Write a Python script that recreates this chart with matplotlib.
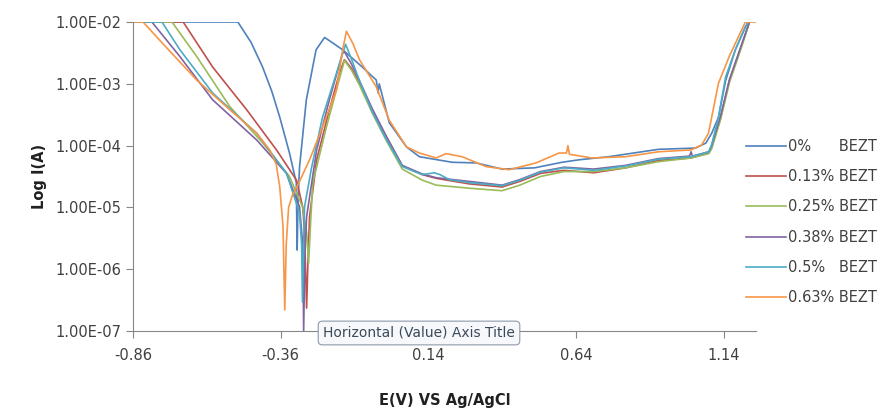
import matplotlib
matplotlib.use("Agg")
import matplotlib.pyplot as plt
from matplotlib.ticker import FixedLocator, FuncFormatter
import numpy as np

# potential (V vs Ag/AgCl) and log10 of current (A)
e_0 = [-0.86, -0.505, -0.46, -0.421, -0.39, -0.363, -0.33, -0.307, -0.304, -0.301, -0.296, -0.273,
       -0.24, -0.211, -0.18, -0.15, -0.083, -0.036, -0.03, -0.026, 0.008, 0.066, 0.11, 0.221, 0.302,
       0.39, 0.5, 0.593, 0.65, 0.751, 0.92, 1.045, 1.08, 1.1, 1.123, 1.147, 1.18, 1.214, 1.224]
logi_0 = [-2, -2, -2.33, -2.73, -3.12, -3.54, -4.12, -4.6, -5.69, -4.9, -4.35, -3.26,
          -2.45, -2.25, -2.35, -2.45, -2.73, -2.94, -3.15, -3.0, -3.63, -4.02, -4.18, -4.27, -4.28,
          -4.38, -4.36, -4.27, -4.23, -4.18, -4.06, -4.04, -3.96, -3.8, -3.54, -2.95, -2.45, -2.08, -2.0]

e_13 = [-0.86, -0.69, -0.59, -0.475, -0.374, -0.306, -0.285, -0.279, -0.272, -0.267, -0.262, -0.238,
        -0.195, -0.161, -0.144, -0.12, -0.093, -0.05, -0.002, 0.052, 0.12, 0.167, 0.28, 0.39, 0.45,
        0.52, 0.6, 0.7, 0.808, 0.92, 1.03, 1.09, 1.1, 1.13, 1.16, 1.2, 1.228]
logi_13 = [-2, -2, -2.73, -3.42, -4.07, -4.56, -5.0, -5.41, -6.63, -5.8, -5.15, -4.23,
           -3.42, -2.83, -2.61, -2.75, -2.99, -3.42, -3.86, -4.33, -4.47, -4.53, -4.62, -4.67, -4.58,
           -4.45, -4.4, -4.44, -4.36, -4.24, -4.2, -4.12, -4.02, -3.55, -2.95, -2.4, -2.0]

e_25 = [-0.86, -0.728, -0.644, -0.532, -0.42, -0.33, -0.286, -0.272, -0.265, -0.258, -0.251, -0.205,
        -0.15, -0.144, -0.12, -0.093, -0.05, -0.002, 0.052, 0.12, 0.167, 0.28, 0.39, 0.45, 0.52,
        0.6, 0.7, 0.808, 0.92, 1.03, 1.09, 1.1, 1.13, 1.16, 1.2, 1.228]
logi_25 = [-2, -2, -2.56, -3.37, -3.96, -4.5, -4.99, -5.4, -5.9, -5.2, -4.6, -3.7,
           -2.73, -2.62, -2.78, -3.02, -3.47, -3.92, -4.38, -4.56, -4.64, -4.69, -4.73, -4.64, -4.5,
           -4.42, -4.42, -4.36, -4.26, -4.2, -4.13, -4.05, -3.58, -2.98, -2.42, -2.0]

e_38 = [-0.86, -0.796, -0.701, -0.59, -0.441, -0.34, -0.296, -0.285, -0.282, -0.278, -0.272, -0.238,
        -0.195, -0.15, -0.144, -0.12, -0.093, -0.05, -0.002, 0.052, 0.12, 0.167, 0.28, 0.39, 0.45,
        0.52, 0.6, 0.7, 0.808, 0.92, 1.025, 1.03, 1.035, 1.09, 1.1, 1.13, 1.16, 1.2, 1.228]
logi_38 = [-2, -2, -2.56, -3.26, -3.91, -4.45, -4.99, -5.6, -7.0, -5.8, -5.15, -4.07,
           -3.26, -2.5, -2.48, -2.68, -2.95, -3.4, -3.85, -4.32, -4.46, -4.52, -4.58, -4.64, -4.55,
           -4.42, -4.35, -4.38, -4.32, -4.21, -4.17, -4.1, -4.17, -4.1, -4.0, -3.52, -2.93, -2.38, -2.0]

e_50 = [-0.86, -0.762, -0.701, -0.59, -0.441, -0.34, -0.296, -0.289, -0.286, -0.282, -0.279, -0.255,
        -0.218, -0.171, -0.14, -0.12, -0.093, -0.05, -0.002, 0.052, 0.12, 0.16, 0.18, 0.211, 0.28,
        0.39, 0.45, 0.52, 0.6, 0.7, 0.808, 0.92, 1.03, 1.09, 1.1, 1.123, 1.147, 1.18, 1.214, 1.224]
logi_50 = [-2, -2, -2.45, -3.15, -3.8, -4.45, -5.09, -5.6, -6.53, -5.6, -4.99, -4.35,
           -3.54, -2.83, -2.36, -2.6, -2.95, -3.45, -3.9, -4.34, -4.47, -4.44, -4.47, -4.55, -4.6,
           -4.65, -4.56, -4.43, -4.36, -4.4, -4.33, -4.22, -4.18, -4.1, -3.98, -3.54, -2.89, -2.45, -2.08, -2.0]

e_63 = [-0.86, -0.826, -0.759, -0.644, -0.532, -0.441, -0.397, -0.375, -0.363, -0.352, -0.346, -0.341,
        -0.333, -0.32, -0.303, -0.262, -0.218, -0.171, -0.15, -0.137, -0.115, -0.093, -0.036, 0.008,
        0.066, 0.11, 0.167, 0.2, 0.255, 0.336, 0.414, 0.505, 0.583, 0.608, 0.613, 0.618, 0.694,
        0.808, 0.92, 1.03, 1.066, 1.089, 1.123, 1.16, 1.214, 1.25]
logi_63 = [-2, -2, -2.35, -2.94, -3.42, -3.8, -4.07, -4.3, -4.67, -5.3, -6.66, -5.6,
           -5.0, -4.8, -4.65, -4.23, -3.7, -3.1, -2.45, -2.15, -2.35, -2.61, -3.05, -3.59,
           -4.02, -4.12, -4.2, -4.13, -4.18, -4.34, -4.39, -4.28, -4.12, -4.12, -4.0, -4.14, -4.2,
           -4.18, -4.1, -4.07, -3.99, -3.8, -2.99, -2.55, -2.0, -2.0]

labels = ["0%      BEZT", "0.13% BEZT", "0.25% BEZT", "0.38% BEZT", "0.5%   BEZT", "0.63% BEZT"]
colors = ["#4F81BD", "#C0504D", "#9BBB59", "#8064A2", "#4BACC6", "#F79646"]
series = [(e_0, logi_0), (e_13, logi_13), (e_25, logi_25),
          (e_38, logi_38), (e_50, logi_50), (e_63, logi_63)]

xticks = [-0.86, -0.36, 0.14, 0.64, 1.14]
yticks = [1e-7, 1e-6, 1e-5, 1e-4, 1e-3, 1e-2]

fig = plt.figure(figsize=(8.89, 4.12), dpi=100)
ax = fig.add_axes([133 / 889, 1 - 331 / 412, (756 - 133) / 889, (331 - 22) / 412])

for (e, li), lab, c in zip(series, labels, colors):
    ax.plot(e, 10 ** np.array(li), color=c, lw=1.2, label=lab)

ax.set_yscale("log")
ax.set_ylim(1e-7, 1e-2)
ax.set_xlim(-0.86, 1.25)
ax.yaxis.set_major_locator(FixedLocator(yticks))
ax.yaxis.set_minor_locator(FixedLocator([]))
ax.yaxis.set_major_formatter(FuncFormatter(lambda v, p: "%.2fE-%02d" % (1.0, -round(np.log10(v)))))
ax.set_xticks(xticks)
ax.set_xticklabels(["%.2f" % t for t in xticks])

for s in ["top", "right"]:
    ax.spines[s].set_visible(False)
for s in ["left", "bottom"]:
    ax.spines[s].set_color("#868686")
ax.tick_params(colors="#868686", labelcolor="#404040", labelsize=10.5, length=5)
ax.tick_params(axis="x", pad=7)

ax.set_ylabel("Log I(A)", fontsize=10.5, fontweight="bold", color="#202020", labelpad=6)
fig.text(0.5, 0.028, "E(V) VS Ag/AgCl", ha="center", va="center",
         fontsize=10.5, fontweight="bold", color="#202020")

fig.legend(loc="center left", bbox_to_anchor=(733 / 889, 1 - 222 / 412), frameon=False,
           fontsize=10.5, handlelength=2.75, handletextpad=0.15, labelspacing=1.05,
           labelcolor="#404040")

# Excel tooltip left in the screenshot
fig.text(419 / 889, 1 - 333 / 412, "Horizontal (Value) Axis Title", ha="center", va="center",
         fontsize=10, color="#3a4a5a",
         bbox=dict(boxstyle="round,pad=0.35,rounding_size=0.3", fc="#f7f8fb", ec="#8e9aa8", lw=0.8))

fig.savefig("out.png", dpi=100)
